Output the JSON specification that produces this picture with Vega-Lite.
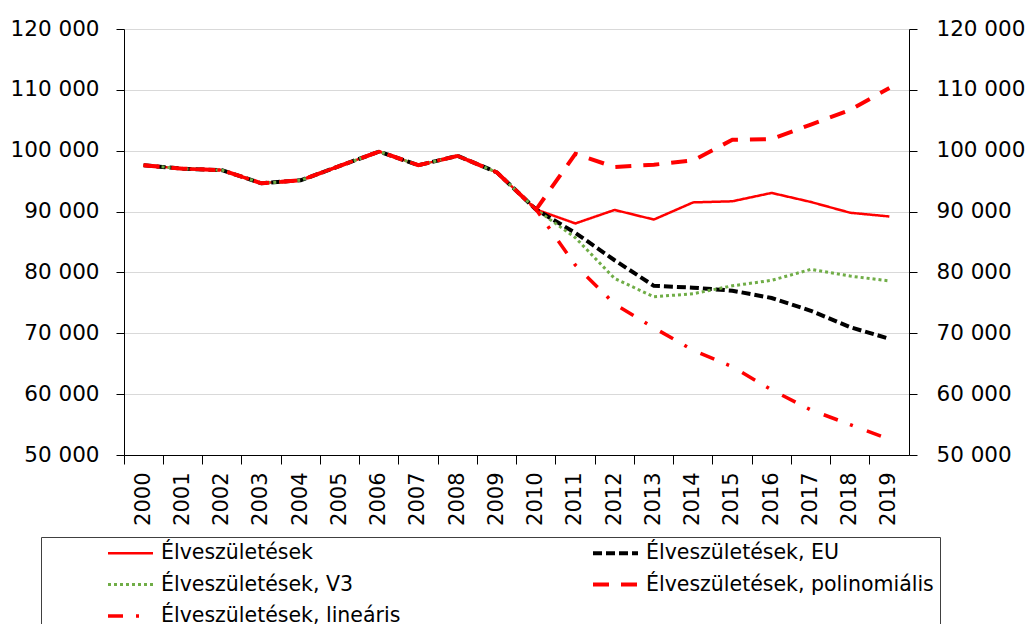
{
  "$schema": "https://vega.github.io/schema/vega-lite/v6.json",
  "width": 785,
  "height": 426,
  "autosize": {"type": "none"},
  "padding": {"left": 124, "top": 29, "right": 120, "bottom": 169},
  "background": "white",
  "config": {"view": {"stroke": null}, "font": "DejaVu Sans"},
  "data": {"values": [
    {"year": "2000", "series": "Élveszületések", "value": 97597},
    {"year": "2001", "series": "Élveszületések", "value": 97047},
    {"year": "2002", "series": "Élveszületések", "value": 96804},
    {"year": "2003", "series": "Élveszületések", "value": 94647},
    {"year": "2004", "series": "Élveszületések", "value": 95137},
    {"year": "2005", "series": "Élveszületések", "value": 97496},
    {"year": "2006", "series": "Élveszületések", "value": 99871},
    {"year": "2007", "series": "Élveszületések", "value": 97613},
    {"year": "2008", "series": "Élveszületések", "value": 99149},
    {"year": "2009", "series": "Élveszületések", "value": 96442},
    {"year": "2010", "series": "Élveszületések", "value": 90335},
    {"year": "2011", "series": "Élveszületések", "value": 88049},
    {"year": "2012", "series": "Élveszületések", "value": 90269},
    {"year": "2013", "series": "Élveszületések", "value": 88689},
    {"year": "2014", "series": "Élveszületések", "value": 91510},
    {"year": "2015", "series": "Élveszületések", "value": 91690},
    {"year": "2016", "series": "Élveszületések", "value": 93063},
    {"year": "2017", "series": "Élveszületések", "value": 91577},
    {"year": "2018", "series": "Élveszületések", "value": 89807},
    {"year": "2019", "series": "Élveszületések", "value": 89193},

    {"year": "2000", "series": "Élveszületések, EU", "value": 97597},
    {"year": "2001", "series": "Élveszületések, EU", "value": 97047},
    {"year": "2002", "series": "Élveszületések, EU", "value": 96804},
    {"year": "2003", "series": "Élveszületések, EU", "value": 94647},
    {"year": "2004", "series": "Élveszületések, EU", "value": 95137},
    {"year": "2005", "series": "Élveszületések, EU", "value": 97496},
    {"year": "2006", "series": "Élveszületések, EU", "value": 99871},
    {"year": "2007", "series": "Élveszületések, EU", "value": 97613},
    {"year": "2008", "series": "Élveszületések, EU", "value": 99149},
    {"year": "2009", "series": "Élveszületések, EU", "value": 96442},
    {"year": "2010", "series": "Élveszületések, EU", "value": 90335},
    {"year": "2011", "series": "Élveszületések, EU", "value": 86500},
    {"year": "2012", "series": "Élveszületések, EU", "value": 82000},
    {"year": "2013", "series": "Élveszületések, EU", "value": 77800},
    {"year": "2014", "series": "Élveszületések, EU", "value": 77500},
    {"year": "2015", "series": "Élveszületések, EU", "value": 77000},
    {"year": "2016", "series": "Élveszületések, EU", "value": 75800},
    {"year": "2017", "series": "Élveszületések, EU", "value": 73700},
    {"year": "2018", "series": "Élveszületések, EU", "value": 71000},
    {"year": "2019", "series": "Élveszületések, EU", "value": 69100},

    {"year": "2000", "series": "Élveszületések, V3", "value": 97597},
    {"year": "2001", "series": "Élveszületések, V3", "value": 97047},
    {"year": "2002", "series": "Élveszületések, V3", "value": 96804},
    {"year": "2003", "series": "Élveszületések, V3", "value": 94647},
    {"year": "2004", "series": "Élveszületések, V3", "value": 95137},
    {"year": "2005", "series": "Élveszületések, V3", "value": 97496},
    {"year": "2006", "series": "Élveszületések, V3", "value": 99871},
    {"year": "2007", "series": "Élveszületések, V3", "value": 97613},
    {"year": "2008", "series": "Élveszületések, V3", "value": 99149},
    {"year": "2009", "series": "Élveszületések, V3", "value": 96442},
    {"year": "2010", "series": "Élveszületések, V3", "value": 90335},
    {"year": "2011", "series": "Élveszületések, V3", "value": 85700},
    {"year": "2012", "series": "Élveszületések, V3", "value": 79000},
    {"year": "2013", "series": "Élveszületések, V3", "value": 76000},
    {"year": "2014", "series": "Élveszületések, V3", "value": 76500},
    {"year": "2015", "series": "Élveszületések, V3", "value": 77800},
    {"year": "2016", "series": "Élveszületések, V3", "value": 78700},
    {"year": "2017", "series": "Élveszületések, V3", "value": 80500},
    {"year": "2018", "series": "Élveszületések, V3", "value": 79400},
    {"year": "2019", "series": "Élveszületések, V3", "value": 78600},

    {"year": "2000", "series": "Élveszületések, polinomiális", "value": 97597},
    {"year": "2001", "series": "Élveszületések, polinomiális", "value": 97047},
    {"year": "2002", "series": "Élveszületések, polinomiális", "value": 96804},
    {"year": "2003", "series": "Élveszületések, polinomiális", "value": 94647},
    {"year": "2004", "series": "Élveszületések, polinomiális", "value": 95137},
    {"year": "2005", "series": "Élveszületések, polinomiális", "value": 97496},
    {"year": "2006", "series": "Élveszületések, polinomiális", "value": 99871},
    {"year": "2007", "series": "Élveszületések, polinomiális", "value": 97613},
    {"year": "2008", "series": "Élveszületések, polinomiális", "value": 99149},
    {"year": "2009", "series": "Élveszületések, polinomiális", "value": 96442},
    {"year": "2010", "series": "Élveszületések, polinomiális", "value": 90335},
    {"year": "2011", "series": "Élveszületések, polinomiális", "value": 99500},
    {"year": "2012", "series": "Élveszületések, polinomiális", "value": 97300},
    {"year": "2013", "series": "Élveszületések, polinomiális", "value": 97700},
    {"year": "2014", "series": "Élveszületések, polinomiális", "value": 98400},
    {"year": "2015", "series": "Élveszületések, polinomiális", "value": 101800},
    {"year": "2016", "series": "Élveszületések, polinomiális", "value": 101900},
    {"year": "2017", "series": "Élveszületések, polinomiális", "value": 104300},
    {"year": "2018", "series": "Élveszületések, polinomiális", "value": 106700},
    {"year": "2019", "series": "Élveszületések, polinomiális", "value": 110300},

    {"year": "2000", "series": "Élveszületések, lineáris", "value": 97597},
    {"year": "2001", "series": "Élveszületések, lineáris", "value": 97047},
    {"year": "2002", "series": "Élveszületések, lineáris", "value": 96804},
    {"year": "2003", "series": "Élveszületések, lineáris", "value": 94647},
    {"year": "2004", "series": "Élveszületések, lineáris", "value": 95137},
    {"year": "2005", "series": "Élveszületések, lineáris", "value": 97496},
    {"year": "2006", "series": "Élveszületések, lineáris", "value": 99871},
    {"year": "2007", "series": "Élveszületések, lineáris", "value": 97613},
    {"year": "2008", "series": "Élveszületések, lineáris", "value": 99149},
    {"year": "2009", "series": "Élveszületések, lineáris", "value": 96442},
    {"year": "2010", "series": "Élveszületések, lineáris", "value": 90335},
    {"year": "2011", "series": "Élveszületések, lineáris", "value": 81200},
    {"year": "2012", "series": "Élveszületések, lineáris", "value": 74800},
    {"year": "2013", "series": "Élveszületések, lineáris", "value": 70900},
    {"year": "2014", "series": "Élveszületések, lineáris", "value": 67200},
    {"year": "2015", "series": "Élveszületések, lineáris", "value": 64500},
    {"year": "2016", "series": "Élveszületések, lineáris", "value": 60700},
    {"year": "2017", "series": "Élveszületések, lineáris", "value": 57400},
    {"year": "2018", "series": "Élveszületések, lineáris", "value": 55000},
    {"year": "2019", "series": "Élveszületések, lineáris", "value": 52600}
  ]},
  "encoding": {
    "x": {
      "field": "year", "type": "ordinal",
      "scale": {"type": "band", "paddingInner": 0, "paddingOuter": 0},
      "axis": {
        "title": null, "labelAngle": -90, "labelFontSize": 21, "labelFont": "DejaVu Sans",
        "labelAlign": "right", "labelBaseline": "middle", "labelColor": "#000",
        "tickSize": 9, "labelPadding": 8, "bandPosition": 0,
        "domainColor": "#000", "tickColor": "#000", "grid": false
      }
    },
    "color": {
      "field": "series", "type": "nominal",
      "scale": {
        "domain": ["Élveszületések", "Élveszületések, EU", "Élveszületések, V3", "Élveszületések, polinomiális", "Élveszületések, lineáris"],
        "range": ["#FF0000", "#000000", "#70AD47", "#FF0000", "#FF0000"]
      },
      "legend": {
        "title": null, "orient": "none", "direction": "horizontal", "legendX": -83, "legendY": 508,
        "columns": 2, "symbolType": "stroke", "symbolSize": 2025, "clipHeight": 20,
        "labelFontSize": 20.5, "labelFont": "DejaVu Sans", "labelColor": "#000",
        "strokeColor": "#404040", "padding": 6, "rowPadding": 10.5, "columnPadding": 131,
        "symbolOffset": 59, "labelOffset": 6, "labelLimit": 600
      }
    },
    "strokeDash": {
      "field": "series", "type": "nominal",
      "scale": {
        "domain": ["Élveszületések", "Élveszületések, EU", "Élveszületések, V3", "Élveszületések, polinomiális", "Élveszületések, lineáris"],
        "range": [[1, 0], [9, 4], [3, 3], [16, 12], [15, 13, 3, 15]]
      }
    },
    "strokeWidth": {
      "field": "series", "type": "nominal",
      "scale": {
        "type": "ordinal",
        "domain": ["Élveszületések", "Élveszületések, EU", "Élveszületések, V3", "Élveszületések, polinomiális", "Élveszületések, lineáris"],
        "range": [2.5, 4, 3, 4, 3.5]
      }
    }
  },
  "layer": [
    {
      "transform": [{"filter": "datum.series !== 'Élveszületések, lineáris'"}],
      "mark": {"type": "line", "strokeCap": "butt"},
      "encoding": {
        "y": {
          "field": "value", "type": "quantitative",
          "scale": {"domain": [50000, 120000], "nice": false, "zero": false},
          "axis": {
            "orient": "left", "title": null,
            "values": [50000, 60000, 70000, 80000, 90000, 100000, 110000, 120000],
            "labelExpr": "replace(format(datum.value, ','), ',', ' ')",
            "grid": true, "gridColor": "#d9d9d9", "gridWidth": 1,
            "domainColor": "#000", "tickColor": "#000", "tickSize": 8,
            "labelPadding": 17, "labelFontSize": 21.5, "labelFont": "DejaVu Sans", "labelColor": "#000"
          }
        }
      }
    },
    {
      "transform": [{"filter": "datum.series === 'Élveszületések, lineáris'"}],
      "mark": {"type": "line", "strokeCap": "butt"},
      "encoding": {
        "y": {
          "field": "value", "type": "quantitative",
          "scale": {"domain": [50000, 120000], "nice": false, "zero": false},
          "axis": {
            "orient": "right", "title": null,
            "values": [50000, 60000, 70000, 80000, 90000, 100000, 110000, 120000],
            "labelExpr": "replace(format(datum.value, ','), ',', ' ')",
            "grid": false,
            "domainColor": "#000", "tickColor": "#000", "tickSize": 8,
            "labelPadding": 19, "labelFontSize": 21.5, "labelFont": "DejaVu Sans", "labelColor": "#000"
          }
        }
      }
    }
  ],
  "resolve": {"axis": {"y": "independent"}}
}
